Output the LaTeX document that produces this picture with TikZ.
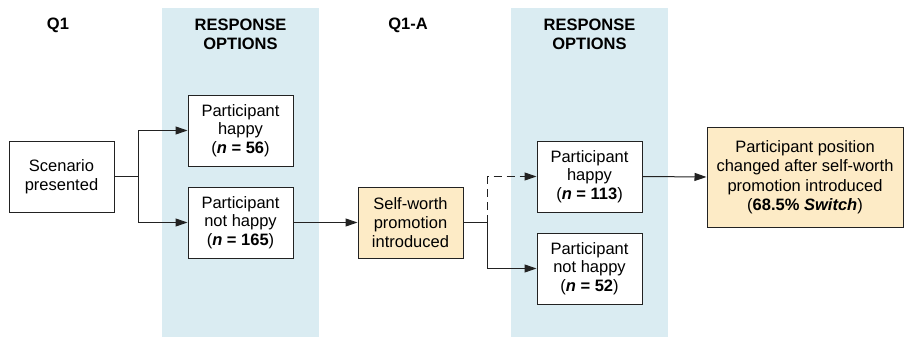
\documentclass[tikz,border=0pt]{standalone}
\usepackage{fontspec}
\setmainfont{Liberation Sans}
\usetikzlibrary{arrows.meta}
\definecolor{bandblue}{HTML}{DAECF2}
\definecolor{boxyellow}{HTML}{FDEBC6}
\definecolor{boxline}{HTML}{222222}
\tikzset{
  band/.style={fill=bandblue, draw=none},
  hdr/.style={font=\fontsize{16.5}{18.7}\selectfont\bfseries, align=center, inner sep=0pt},
  boxn/.style={draw=boxline, line width=1pt, fill=white, minimum width=105pt, minimum height=71pt,
    inner sep=0pt, align=center, font=\fontsize{16.5}{18.7}\selectfont},
  ybox/.style={boxn, fill=boxyellow},
  conn/.style={line width=1pt, draw=boxline},
  arr/.style={conn, -{Triangle[length=12pt,width=8pt]}},
}
\begin{document}
\begin{tikzpicture}[x=1pt,y=-1pt]
\useasboundingbox (0,0) rectangle (904,337);
% bands
\fill[band] (162,8) rectangle (319,337);
\fill[band] (511,8) rectangle (668,337);
% headers
\node[hdr] (q1) at (58,25) {Q1};
\node[hdr] (ro1) at (240.5,34.5) {RESPONSE\\OPTIONS};
\node[hdr] (q1a) at (408,25) {Q1-A};
\node[hdr] (ro2) at (589.5,34.5) {RESPONSE\\OPTIONS};
% boxes
\node[boxn] (scen) at (61.5,176.5) {Scenario\\presented};
\node[boxn] (h1) at (240.5,130.5) {Participant\\happy\\(\textbf{\textit{n} = 56})};
\node[boxn] (nh1) at (240.5,222.5) {Participant\\not happy\\(\textbf{\textit{n} = 165})};
\node[ybox] (sw) at (410.5,222.5) {Self-worth\\promotion\\introduced};
\node[boxn] (h2) at (589.5,176.5) {Participant\\happy\\(\textbf{\textit{n} = 113})};
\node[boxn] (nh2) at (589.5,268.5) {Participant\\not happy\\(\textbf{\textit{n} = 52})};
\node[ybox, minimum width=196pt, minimum height=100pt, font=\fontsize{16.5}{19.5}\selectfont] (fin) at (805,177)
  {Participant position\\changed after self-worth\\promotion introduced\\(\textbf{68.5\% \textit{Switch}})};
% connectors
\coordinate (j1) at ([xshift=24pt]scen.east);
\draw[conn] (scen.east) -- (j1);
\draw[arr] (j1) |- (h1.west);
\draw[arr] (j1) |- (nh1.west);
\draw[arr] (nh1.east) -- (sw.west);
\coordinate (j2) at ([xshift=24pt]sw.east);
\draw[conn] (sw.east) -- (j2);
\draw[arr, dash pattern=on 8pt off 5pt] (j2) |- (h2.west);
\draw[arr] (j2) |- (nh2.west);
\draw[arr] (h2.east) -- (fin.west);
\end{tikzpicture}
\end{document}
